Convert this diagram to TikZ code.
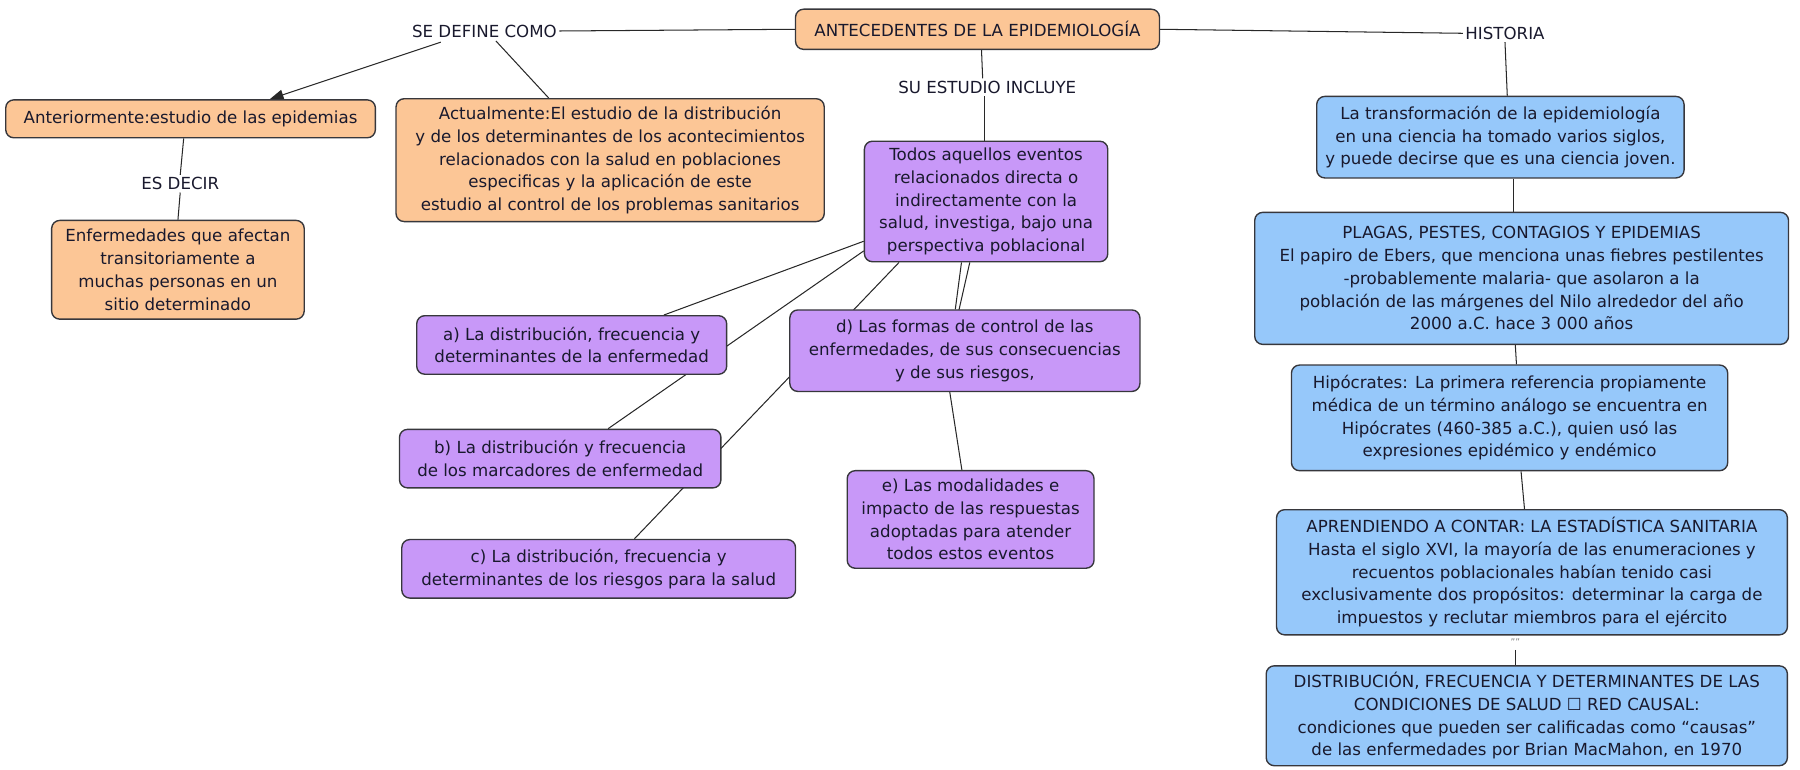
\documentclass[tikz,border=0pt]{standalone}
\usepackage{fontspec}
\setmainfont{DejaVu Sans}
\usetikzlibrary{arrows.meta}
\definecolor{orangef}{RGB}{252,198,150}
\definecolor{purplef}{RGB}{200,152,248}
\definecolor{bluef}{RGB}{150,200,250}
\definecolor{edgec}{RGB}{55,55,60}
\definecolor{txt}{RGB}{25,25,45}
\definecolor{linec}{RGB}{40,40,40}
\pgfdeclarelayer{bg}
\pgfsetlayers{bg,main}
\begin{document}
\begin{tikzpicture}[x=1pt,y=-1pt,
  every node/.style={font=\fontsize{14.5}{19.8}\selectfont, text=txt},
  box/.style={draw=edgec, line width=1.2pt, rounded corners=7pt, align=center, inner sep=1pt},
  ob/.style={box, fill=orangef},
  pb/.style={box, fill=purplef},
  bb/.style={box, fill=bluef},
  lab/.style={inner sep=2pt, align=center},
  conn/.style={draw=linec, line width=0.9pt}]
\useasboundingbox (0,0) rectangle (1568,670);
% concepts
\node[ob, minimum width=317pt, minimum height=35pt] (ant) at (851.5,25.5) {ANTECEDENTES DE LA EPIDEMIOLOGÍA};
\node[lab] (sedef) at (422,27) {SE DEFINE COMO};
\node[lab] (hist) at (1311,29) {HISTORIA};
\node[lab] (suest) at (860,76) {SU ESTUDIO INCLUYE};
\node[lab] (esdec) at (157,160) {ES DECIR};
\node[ob, minimum width=322pt, minimum height=33pt] (anter) at (166,103.5) {Anteriormente:estudio de las epidemias};
\node[ob, minimum width=373pt, minimum height=107pt] (actual) at (531.5,139.5) {Actualmente:El estudio de la distribución\\ y de los determinantes de los acontecimientos\\ relacionados con la salud en poblaciones\\ especificas y la aplicación de este\\ estudio al control de los problemas sanitarios};
\node[ob, minimum width=220pt, minimum height=86pt] (enf) at (155,235) {Enfermedades que afectan\\ transitoriamente a\\ muchas personas en un\\ sitio determinado};
\node[pb, minimum width=212pt, minimum height=105pt] (todos) at (859,175.5) {Todos aquellos eventos\\ relacionados directa o\\ indirectamente con la\\ salud, investiga, bajo una\\ perspectiva poblacional};
\node[pb, minimum width=270pt, minimum height=51pt] (a) at (498,300.5) {a) La distribución, frecuencia y\\ determinantes de la enfermedad};
\node[pb, minimum width=305pt, minimum height=71pt] (d) at (840.5,305.5) {d) Las formas de control de las\\ enfermedades, de sus consecuencias\\ y de sus riesgos,};
\node[pb, minimum width=280pt, minimum height=51pt] (b) at (488,399.5) {b) La distribución y frecuencia\\ de los marcadores de enfermedad};
\node[pb, minimum width=343pt, minimum height=51pt] (c) at (521.5,495.5) {c) La distribución, frecuencia y\\ determinantes de los riesgos para la salud};
\node[pb, minimum width=215pt, minimum height=85pt] (e) at (845.5,452.5) {e) Las modalidades e\\ impacto de las respuestas\\ adoptadas para atender\\ todos estos eventos};
\node[bb, minimum width=320pt, minimum height=71pt] (transf) at (1307,119.5) {La transformación de la epidemiología\\ en una ciencia ha tomado varios siglos,\\ y puede decirse que es una ciencia joven.};
\node[bb, minimum width=465pt, minimum height=115pt] (plagas) at (1325.5,242.5) {PLAGAS, PESTES, CONTAGIOS Y EPIDEMIAS\\ El papiro de Ebers, que menciona unas fiebres pestilentes\\ -probablemente malaria- que asolaron a la\\ población de las márgenes del Nilo alrededor del año\\ 2000 a.C. hace 3 000 años};
\node[bb, minimum width=380pt, minimum height=92pt] (hipo) at (1315,364) {Hipócrates: La primera referencia propiamente\\ médica de un término análogo se encuentra en\\ Hipócrates (460-385 a.C.), quien usó las\\ expresiones epidémico y endémico};
\node[bb, minimum width=445pt, minimum height=109pt] (apren) at (1334.5,498.5) {APRENDIENDO A CONTAR: LA ESTADÍSTICA SANITARIA\\ Hasta el siglo XVI, la mayoría de las enumeraciones y\\ recuentos poblacionales habían tenido casi\\ exclusivamente dos propósitos: determinar la carga de\\ impuestos y reclutar miembros para el ejército};
\node[inner sep=1pt, font=\fontsize{8}{8}\selectfont, text=gray] (marks) at (1320,559) {''''};
\node[bb, minimum width=454pt, minimum height=87pt] (distr) at (1330,623.5) {DISTRIBUCIÓN, FRECUENCIA Y DETERMINANTES DE LAS\\ CONDICIONES DE SALUD ☐ RED CAUSAL:\\ condiciones que pueden ser calificadas como “causas”\\ de las enfermedades por Brian MacMahon, en 1970};
\coordinate (bend) at (824,320);
% connectors
\begin{pgfonlayer}{bg}
\draw[conn] (sedef.east) -- (ant.west);
\draw[conn, -{Triangle[length=12pt,width=9pt]}] ([xshift=-38pt,yshift=-2pt]sedef.south) -- ([xshift=69pt]anter.north);
\draw[conn] ([xshift=10pt,yshift=-1pt]sedef.south) -- ([xshift=-53.5pt]actual.north);
\draw[conn] (ant.east) -- (hist.west);
\draw[conn] (hist.south) -- ([xshift=6pt]transf.north);
\draw[conn] ([xshift=11pt]transf.south) -- ([xshift=-7.5pt]plagas.north);
\draw[conn] ([xshift=-5.5pt]plagas.south) -- ([xshift=6pt]hipo.north);
\draw[conn] ([xshift=10pt]hipo.south) -- ([xshift=-6.5pt]apren.north);
\draw[conn] ([yshift=-3pt]marks.south) -- ([xshift=-10pt]distr.north);
\draw[conn] ([xshift=3.5pt]ant.south) -- ([xshift=-4pt]suest.north);
\draw[conn] ([xshift=-2pt]suest.south) -- ([xshift=-1pt]todos.north);
\draw[conn] ([xshift=-6pt]anter.south) -- (esdec.north);
\draw[conn] (esdec.south) -- (enf.north);
\draw[conn] (todos.198) -- (a.18);
\draw[conn] (todos.202) -- (b.32);
\draw[conn] (todos.215) -- (c.40);
\draw[conn] (todos.248) -- (d.103);
\draw[conn] (todos.255) -- (bend) -- (e.100);
\end{pgfonlayer}
\end{tikzpicture}
\end{document}
